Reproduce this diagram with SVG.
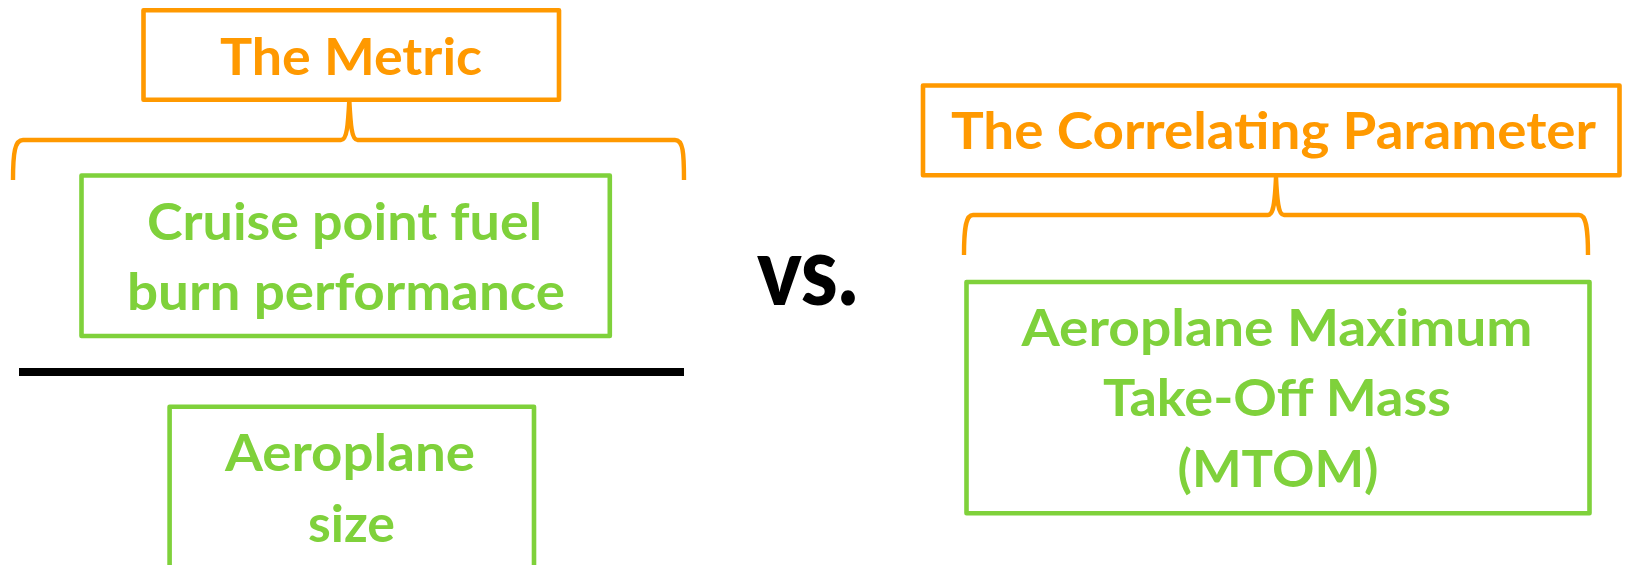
<svg xmlns="http://www.w3.org/2000/svg" width="1625" height="565" viewBox="0 0 1625 565">
<style>
.bg{fill:#ffffff}
.obox{fill:#ffffff;stroke:#FF9900;stroke-width:4.6;stroke-linejoin:round}
.gbox{fill:#ffffff;stroke:#7FD13B;stroke-width:4.6;stroke-linejoin:round}
.brace{fill:none;stroke:#FF9900;stroke-width:4.4;stroke-linejoin:round}
.t{font-family:Lato,"Open Sans","Liberation Sans",sans-serif;font-weight:bold;font-size:52px;text-anchor:middle}
.to{fill:#FF9900}
.tg{fill:#7FD13B}
.vs{font-family:Lato,"Open Sans","Liberation Sans",sans-serif;font-weight:900;font-size:96px;text-anchor:middle;fill:#000000}
</style>
<rect class="bg" x="0" y="0" width="1625" height="565"/>
<g id="connectors">
<path class="brace" d="M13,180 C13,152 15,140 23,140 L341,140 C347,140 348,125 349.3,100 C350.6,125 351.6,140 357.6,140 L675,140 C683,140 684,152 684,180"/>
<path class="brace" d="M964,255 C964,227 966,215 973,215 L1268,215 C1274,215 1275,200 1276,177 C1277,200 1278,215 1284,215 L1579,215 C1586,215 1588,227 1588,255"/>
</g>
<g id="divider">
<rect x="19" y="368" width="665" height="8" fill="#000000"/>
</g>
<g id="metric">
<rect class="obox" x="143.5" y="10.3" width="415.5" height="89.4"/>
<text class="t to" x="351" y="75" textLength="262" lengthAdjust="spacingAndGlyphs">The Metric</text>
</g>
<g id="cruise">
<rect class="gbox" x="81.5" y="175.5" width="528.3" height="160.5"/>
<text class="t tg" x="344.5" y="240" textLength="395" lengthAdjust="spacingAndGlyphs">Cruise point fuel</text>
<text class="t tg" x="346" y="310" textLength="438" lengthAdjust="spacingAndGlyphs">burn performance</text>
</g>
<g id="size">
<rect class="gbox" x="169.6" y="406.7" width="364.4" height="220"/>
<text class="t tg" x="350" y="471" textLength="250" lengthAdjust="spacingAndGlyphs">Aeroplane</text>
<text class="t tg" x="351.5" y="542" textLength="87" lengthAdjust="spacingAndGlyphs">size</text>
</g>
<g id="vs">
<text class="vs" x="807.5" y="305" textLength="101" lengthAdjust="spacingAndGlyphs">vs.</text>
</g>
<g id="correlating">
<rect class="obox" x="923" y="85.5" width="696.5" height="89.8"/>
<text class="t to" x="1273.5" y="149" textLength="645" lengthAdjust="spacingAndGlyphs">The Correlating Parameter</text>
</g>
<g id="mtom">
<rect class="gbox" x="966.5" y="282" width="623" height="231.3"/>
<text class="t tg" x="1277" y="346" textLength="511" lengthAdjust="spacingAndGlyphs">Aeroplane Maximum</text>
<text class="t tg" x="1277" y="416" textLength="348" lengthAdjust="spacingAndGlyphs">Take-Off Mass</text>
<text class="t tg" x="1278" y="487" textLength="201" lengthAdjust="spacingAndGlyphs">(MTOM)</text>
</g>
</svg>
